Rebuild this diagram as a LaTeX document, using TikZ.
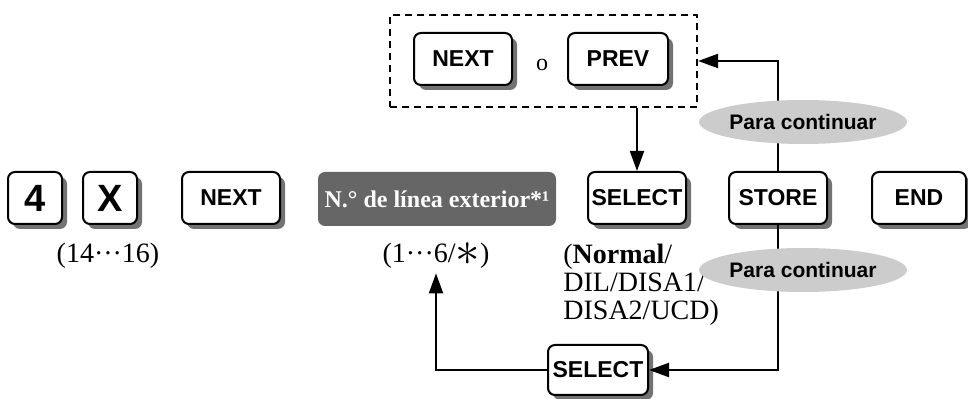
\documentclass[tikz,border=0pt]{standalone}
\usepackage{fontspec}
\usepackage{graphicx}
\setmainfont{Liberation Serif}
\setsansfont{Liberation Sans}
\usetikzlibrary{arrows.meta,shapes.geometric,shadows}
\tikzset{
  pad key/.style={draw,line width=1pt,rounded corners=3.5pt,fill=white,minimum width=49pt,minimum height=26pt,inner sep=0pt,
    font=\fontsize{11.5}{12}\selectfont\sffamily\bfseries,
    drop shadow={shadow xshift=2.5pt,shadow yshift=-2.5pt,fill=black!55,opacity=1}},
  pad digit/.style={pad key,minimum width=27pt,font=\fontsize{19}{20}\selectfont\sffamily\bfseries},
  pad field/.style={fill=black!60,rounded corners=3.5pt,text=white,minimum width=119pt,minimum height=27pt,inner sep=0pt,
    font=\fontsize{12}{13}\selectfont\rmfamily\bfseries},
  pad cont/.style={ellipse,fill=black!20,minimum width=83pt,minimum height=22pt,inner sep=0pt,
    font=\fontsize{10.5}{11}\selectfont\sffamily\bfseries},
  pad note/.style={inner sep=0pt,font=\fontsize{14}{14}\selectfont\rmfamily},
  pad frame/.style={draw,line width=1.1pt,dash pattern=on 3.5pt off 2.5pt,inner sep=0pt},
  pad arrow/.style={line width=1pt,-{Triangle[length=10pt,width=7pt]}}
}
\newcommand{\padstar}{\raisebox{-1.2pt}{\scalebox{1.7}{$\ast$}}}
\begin{document}
\begin{tikzpicture}[x=0.5pt,y=-0.5pt]
  \useasboundingbox (0,0) rectangle (968,399);
  % main row of keys
  \node[pad digit] (four) at (35,198) {4};
  \node[pad digit] (ex) at (110,198) {X};
  \node[pad key] (next) at (231,198) {NEXT};
  \node[pad field] (lineno) at (437,199) {N.° de línea exterior*¹};
  \node[pad key] (select) at (637,198) {SELECT};
  \node[pad key] (store) at (778,198) {STORE};
  \node[pad key,minimum width=47pt] (end) at (919,198) {END};
  % NEXT or PREV
  \node[pad frame,minimum width=153.5pt,minimum height=46pt] (choice) at (543.5,61) {};
  \node[pad key] (nextb) at (463,59) {NEXT};
  \node[pad note,font=\fontsize{12}{12}\selectfont\rmfamily] (or) at (542,65) {o};
  \node[pad key,minimum width=50pt] (prev) at (618,59) {PREV};
  % ranges
  \node[pad note,anchor=base] (range1) at (108,263) {(14···16)};
  \node[pad note,anchor=base,inner sep=2pt] (range2) at (436,263) {(1···6/\padstar)};
  \node[pad note,anchor=north west,align=left] (mode) at (563,244) {(\textbf{Normal}/\\DIL/DISA1/\\DISA2/UCD)};
  \node[pad key,minimum width=50pt,minimum height=25pt] (selectb) at (598,370) {SELECT};
  % connectors
  \draw[pad arrow] (store.north) |- (choice.east);
  \draw[pad arrow] (choice.south -| select.north) -- (select.north);
  \draw[pad arrow] (store.south) |- (selectb.east);
  \draw[pad arrow] (selectb.west) -| (range2.south);
  \node[pad cont] (conttop) at (803,122) {Para continuar};
  \node[pad cont] (contbot) at (803,270) {Para continuar};
\end{tikzpicture}
\end{document}
